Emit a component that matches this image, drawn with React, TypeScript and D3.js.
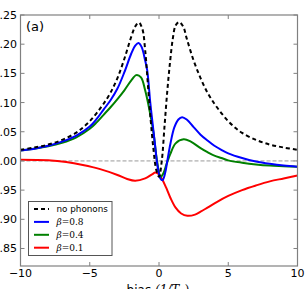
import React from "react";
import * as d3 from "d3";

const xTicks = [-10, -5, 0, 5, 10];
const xTickLabels = ["\u221210", "\u22125", "0", "5", "10"];
const yTicks = [0.85, 0.9, 0.95, 1.0, 1.05, 1.1, 1.15, 1.2, 1.25];
const yTickLabels = ["0.85", "0.90", "0.95", "1.00", "1.05", "1.10", "1.15", "1.20", "1.25"];

const noPhononsX = [-10, -9, -8, -7, -6, -5.5, -5, -4.5, -4, -3.5, -3, -2.5, -2, -1.7, -1.45, -1.2, -1, -0.8, -0.6, -0.4, -0.2, 0, 0.2, 0.4, 0.6, 0.8, 1, 1.2, 1.45, 1.75, 2, 2.5, 3, 3.5, 4, 4.5, 5, 5.5, 6, 7, 8, 9, 10];
const noPhononsY = [1.019, 1.023, 1.028, 1.036, 1.048, 1.057, 1.068, 1.082, 1.098, 1.117, 1.142, 1.175, 1.213, 1.231, 1.237, 1.226, 1.19, 1.13, 1.07, 1.02, 0.985, 0.973, 1.0, 1.06, 1.12, 1.17, 1.21, 1.232, 1.238, 1.23, 1.21, 1.172, 1.142, 1.117, 1.098, 1.082, 1.068, 1.057, 1.048, 1.036, 1.028, 1.023, 1.019];

const beta08X = [-10, -9, -8, -7, -6, -5, -4.5, -4, -3.5, -3, -2.5, -2, -1.7, -1.48, -1.25, -1, -0.85, -0.63, -0.5, -0.3, -0.1, 0.1, 0.26, 0.45, 0.6, 0.82, 1.1, 1.4, 1.67, 2, 2.5, 3, 3.5, 4, 4.5, 5, 6, 7, 8, 9, 10];
const beta08Y = [1.018, 1.021, 1.026, 1.033, 1.043, 1.059, 1.072, 1.088, 1.104, 1.124, 1.152, 1.184, 1.198, 1.202, 1.195, 1.172, 1.155, 1.1, 1.072, 1.03, 0.99, 0.97, 0.967, 0.98, 1.0, 1.029, 1.057, 1.071, 1.075, 1.071, 1.058, 1.045, 1.035, 1.026, 1.019, 1.013, 1.005, 0.999, 0.995, 0.992, 0.99];

const beta04X = [-10, -9, -8, -7, -6, -5, -4.5, -4, -3.5, -3, -2.5, -2, -1.64, -1.3, -1, -0.68, -0.39, -0.2, 0, 0.1, 0.3, 0.55, 0.82, 1.2, 1.78, 2.3, 3, 3.5, 4, 4.5, 5, 6, 7, 8, 9, 10];
const beta04Y = [1.018, 1.021, 1.025, 1.031, 1.04, 1.055, 1.066, 1.079, 1.092, 1.106, 1.121, 1.138, 1.147, 1.143, 1.121, 1.086, 1.047, 1.01, 0.98, 0.972, 0.978, 0.995, 1.012, 1.03, 1.037, 1.033, 1.022, 1.015, 1.009, 1.005, 1.001, 0.997, 0.994, 0.992, 0.991, 0.99];

const beta01X = [-10, -8, -6.7, -5.5, -4.25, -3, -2.3, -1.72, -1, -0.5, -0.27, 0, 0.22, 0.5, 0.82, 1.2, 1.6, 2.05, 2.6, 3, 3.5, 4.2, 5, 6, 7, 8, 9, 10];
const beta01Y = [1.002, 1.001, 0.998, 0.993, 0.986, 0.976, 0.969, 0.966, 0.97, 0.977, 0.98, 0.977, 0.969, 0.955, 0.937, 0.92, 0.91, 0.906, 0.908, 0.913, 0.92, 0.93, 0.94, 0.95, 0.958, 0.965, 0.97, 0.975];

const legendLabels = ["no phonons", "0.8", "0.4", "0.1"];

const W = 308;
const H = 289;
const left = 20.5;
const right = 297.5;
const top = 15;
const bottom = 266;

export default function App() {
  const x = d3.scaleLinear().domain([-10, 10]).range([left, right]);
  const y = d3.scaleLinear().domain([0.82, 1.25]).range([bottom, top]);
  const line = d3
    .line<[number, number]>()
    .x((d) => x(d[0]))
    .y((d) => y(d[1]))
    .curve(d3.curveCatmullRom.alpha(0.5));
  const mk = (xs: number[], ys: number[]) => line(xs.map((v, i) => [v, ys[i]] as [number, number])) || "";

  const series = [
    { xs: beta01X, ys: beta01Y, color: "#ff0000", dash: undefined },
    { xs: beta04X, ys: beta04Y, color: "#008000", dash: undefined },
    { xs: beta08X, ys: beta08Y, color: "#0000ff", dash: undefined },
    { xs: noPhononsX, ys: noPhononsY, color: "#000000", dash: "4,3" },
  ];

  const legendColors = ["#000000", "#0000ff", "#008000", "#ff0000"];
  const tickFont = "'DejaVu Sans', sans-serif";

  return (
    <svg width={W} height={H} style={{ position: "absolute", left: 0, top: 0 }}>
      <rect x={0} y={0} width={W} height={H} fill="#ffffff" />
      <defs>
        <clipPath id="plotclip">
          <rect x={left} y={top} width={right - left} height={bottom - top} />
        </clipPath>
      </defs>
      <line x1={left} x2={right} y1={y(1.0)} y2={y(1.0)} stroke="#999999" strokeWidth={1} strokeDasharray="4,2" />
      <g clipPath="url(#plotclip)">
        {series.map((s, i) => (
          <path key={i} d={mk(s.xs, s.ys)} fill="none" stroke={s.color} strokeWidth={2} strokeDasharray={s.dash} />
        ))}
      </g>
      <rect x={left} y={top} width={right - left} height={bottom - top} fill="none" stroke="#808080" strokeWidth={1.2} />
      {xTicks.map((t, i) => (
        <g key={"xt" + i}>
          <line x1={x(t)} x2={x(t)} y1={bottom} y2={bottom - 4} stroke="#808080" strokeWidth={1} />
          <line x1={x(t)} x2={x(t)} y1={top} y2={top + 4} stroke="#808080" strokeWidth={1} />
          <text x={x(t)} y={277} textAnchor="middle" fontFamily={tickFont} fontSize={11} fill="#000">
            {xTickLabels[i]}
          </text>
        </g>
      ))}
      {yTicks.map((t, i) => (
        <g key={"yt" + i}>
          <line x1={left} x2={left + 4} y1={y(t)} y2={y(t)} stroke="#808080" strokeWidth={1} />
          <line x1={right} x2={right - 4} y1={y(t)} y2={y(t)} stroke="#808080" strokeWidth={1} />
          <text x={17} y={y(t)} dy="0.36em" textAnchor="end" fontFamily={tickFont} fontSize={11} fill="#000">
            {yTickLabels[i]}
          </text>
        </g>
      ))}
      <text x={26} y={30.5} fontFamily={tickFont} fontSize={13} fill="#000">
        (a)
      </text>
      <text x={158} y={294} textAnchor="middle" fontFamily={tickFont} fontSize={12} fill="#000">
        bias{" "}
        <tspan fontFamily="'DejaVu Serif', serif" fontStyle="italic">(1/T</tspan>
        <tspan fontFamily="'DejaVu Serif', serif" fontStyle="italic" fontSize={8} dy={2}>L</tspan>
        <tspan fontFamily="'DejaVu Serif', serif" dy={-2}>)</tspan>
      </text>
      <rect x={28.5} y={201.5} width={83.5} height={54} fill="#ffffff" stroke="#555555" strokeWidth={1} />
      {legendLabels.map((lab, i) => {
        const ry = 209 + i * 12.9;
        return (
          <g key={"lg" + i}>
            <line
              x1={34}
              x2={49}
              y1={ry}
              y2={ry}
              stroke={legendColors[i]}
              strokeWidth={2}
              strokeDasharray={i === 0 ? "4,3" : undefined}
            />
            {i === 0 ? (
              <text x={56.5} y={ry} dy="0.35em" fontFamily={tickFont} fontSize={8.8} fill="#000">
                {lab}
              </text>
            ) : (
              <text x={56.5} y={ry} dy="0.35em" fontFamily="'DejaVu Serif', serif" fontSize={9} fill="#000">
                <tspan fontStyle="italic">β</tspan>
                <tspan>={lab}</tspan>
              </text>
            )}
          </g>
        );
      })}
    </svg>
  );
}
